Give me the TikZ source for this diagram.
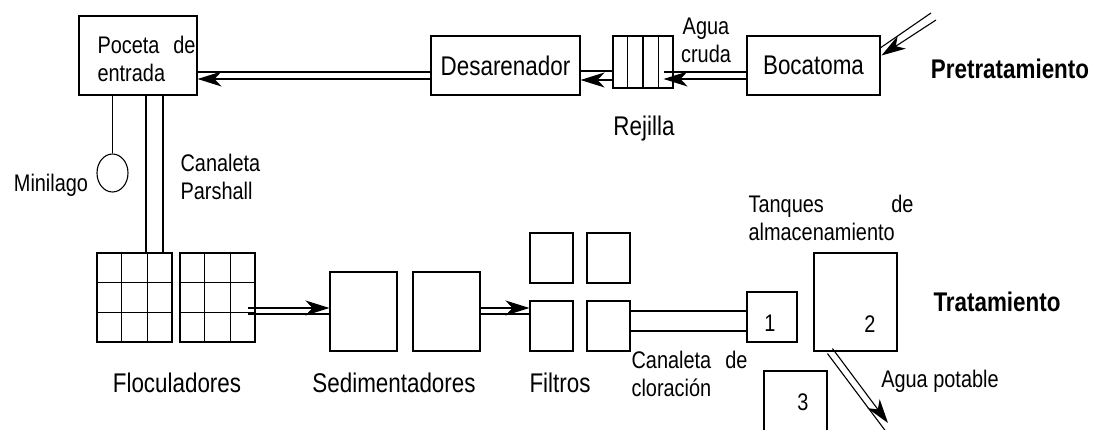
\documentclass[tikz,border=0pt]{standalone}
\usepackage{fontspec}
\setmainfont{Liberation Sans}[FakeStretch=0.83]
\usetikzlibrary{arrows.meta,shapes.geometric,calc}

\begin{document}
\begin{tikzpicture}[x=1pt, y=-1pt, line width=1.1pt,
    flecha/.style={-{Stealth[length=24pt,width=15pt,inset=7pt]}},
    caja/.style 2 args={draw, inner sep=0pt, minimum width=#1, minimum height=#2,
                font=\fontsize{27}{32}\selectfont},
    etiq/.style={inner sep=0pt, align=left, font=\fontsize{24}{28}\selectfont},
    rotulo/.style={inner sep=0pt, font=\fontsize{27}{32}\selectfont},
    fase/.style={inner sep=0pt, font=\fontsize{27}{32}\selectfont\bfseries}]

  \useasboundingbox (0,0) rectangle (1094,430);
  \clip (0,0) rectangle (1094,430);

  %% ── Pretratamiento (fila superior) ─────────────────────────
  \node[caja={118pt}{79pt}] (poceta) at (138,55.5) {};
  \node[etiq, anchor=north west] (tpoceta) at (97,35.5)
    {\hbox to 98pt{Poceta\hfil de}\\entrada};
  \node[caja={149pt}{59pt}] (desar) at (505.5,65.5) {Desarenador};
  \node[caja={60pt}{52pt}] (rejilla) at (643,62) {};
  \foreach \k in {1,2,3}
    \draw ($(rejilla.north west)!\k/4!(rejilla.north east)$) --
          ($(rejilla.south west)!\k/4!(rejilla.south east)$);
  \node[caja={133pt}{59pt}] (boca) at (813.5,65.5) {Bocatoma};

  \node[etiq, align=center] (tcruda) at (706,40) {Agua\\cruda};
  \node[rotulo] (trejilla) at (644,129) {Rejilla};
  \node[fase] (tpre) at (1010,69) {Pretratamiento};

  %% Captacion -> Bocatoma
  \coordinate (capta1) at (931,13);
  \coordinate (capta2) at (936,20);
  \draw (capta1) -- ([shift={(-1,13)}]boca.north east);
  \draw[flecha] (capta2) -- ([shift={(1,20)}]boca.north east);

  %% Bocatoma -> Rejilla
  \coordinate (rejfin) at ([xshift=-10pt]rejilla.east);
  \draw ([yshift=-6.5pt]boca.west) -- ([yshift=-6.5pt]boca.west -| rejfin);
  \draw[flecha] ([yshift=-13.5pt]boca.west) -- ([yshift=-13.5pt]boca.west -| rejfin);

  %% Rejilla -> Desarenador
  \draw ([yshift=-9pt]rejilla.west) -- ([yshift=-9pt]rejilla.west -| desar.east);
  \draw[flecha] ([yshift=-18pt]rejilla.west) -- ([yshift=-18pt]rejilla.west -| desar.east);

  %% Desarenador -> Poceta
  \draw ([yshift=-6.5pt]desar.west) -- ([yshift=-6.5pt]desar.west -| poceta.east);
  \draw[flecha] ([yshift=-13.5pt]desar.west) -- ([yshift=-13.5pt]desar.west -| poceta.east);

  %% ── Minilago y canaleta Parshall ───────────────────────────
  \node[draw, ellipse, inner sep=0pt, minimum width=31pt, minimum height=38pt]
    (minilago) at (112.5,173) {};
  \node[etiq] (tminilago) at (51,185) {Minilago};
  \draw (minilago.north) -- (minilago.north |- poceta.south);
  \node[etiq, anchor=west] (tparshall) at (180,177) {Canaleta\\Parshall};

  %% ── Tratamiento (fila inferior) ────────────────────────────
  \node[caja={75pt}{89pt}] (floc1) at (134.5,297.5) {};
  \node[caja={75pt}{89pt}] (floc2) at (217.5,297.5) {};
  \foreach \f in {floc1,floc2}
    \foreach \k in {1,2} {
      \draw ($(\f.north west)!\k/3!(\f.north east)$) --
            ($(\f.south west)!\k/3!(\f.south east)$);
      \draw ($(\f.north west)!\k/3!(\f.south west)$) --
            ($(\f.north east)!\k/3!(\f.south east)$);
    }
  \foreach \d in {8,25}
    \draw ([xshift=\d pt]poceta.south) -- ([xshift=\d pt]poceta.south |- floc1.north);

  \node[caja={67pt}{79pt}] (sed1) at (363.5,311.5) {};
  \node[caja={67pt}{79pt}] (sed2) at (446.5,311.5) {};

  %% Floculadores -> Sedimentadores
  \coordinate (flocsal) at ([xshift=-8pt]floc2.east);
  \draw[flecha] ([yshift=3.5pt]sed1.west -| flocsal) -- ([yshift=3.5pt]sed1.west);
  \draw ([yshift=-2.5pt]sed1.west -| flocsal) -- ([yshift=-2.5pt]sed1.west);

  \node[caja={43pt}{50pt}] (fil1) at (551.5,258) {};
  \node[caja={43pt}{50pt}] (fil2) at (608.5,258) {};
  \node[caja={43pt}{50pt}] (fil3) at (551.5,326) {};
  \node[caja={43pt}{50pt}] (fil4) at (608.5,326) {};

  %% Sedimentadores -> Filtros
  \draw[flecha] ([yshift=3.5pt]sed2.east) -- ([yshift=3.5pt]sed2.east -| fil3.west);
  \draw ([yshift=-2.5pt]sed2.east) -- ([yshift=-2.5pt]sed2.east -| fil3.west);

  %% Tanques de almacenamiento
  \node[caja={50pt}{50pt}] (tanque1) at (772,317) {};
  \node[caja={83pt}{98pt}] (tanque2) at (855.5,302) {};
  \node[caja={63pt}{80pt}] (tanque3) at (795.5,411) {};
  \node[etiq] (n1) at (770,323) {1};
  \node[etiq] (n2) at (870,324) {2};
  \node[etiq] (n3) at (803,402) {3};

  %% Canaleta de cloracion
  \draw ([yshift=6pt]tanque1.west -| fil4.east) -- ([yshift=6pt]tanque1.west);
  \draw ([yshift=-14pt]tanque1.west -| fil4.east) -- ([yshift=-14pt]tanque1.west);

  %% Agua potable
  \coordinate (pot1) at (890,437);
  \coordinate (pot2) at (888,423);
  \draw ([shift={(14,2)}]tanque2.south west) -- (pot1);
  \draw[flecha] ([shift={(19,-3)}]tanque2.south west) -- (pot2);

  %% Rotulos
  \node[rotulo] (tfloc) at (177,383) {Floculadores};
  \node[rotulo] (tsed) at (394,383) {Sedimentadores};
  \node[rotulo] (tfil) at (560,383) {Filtros};
  \node[etiq, anchor=north west] (tclor) at (631,351)
    {\hbox to 116pt{Canaleta\hfil de}\\cloración};
  \node[etiq, anchor=north west] (ttanq) at (748,195)
    {\hbox to 165pt{Tanques\hfil de}\\almacenamiento};
  \node[etiq] (tpotable) at (940,381) {Agua potable};
  \node[fase] (ttrat) at (997,302) {Tratamiento};

\end{tikzpicture}
\end{document}
